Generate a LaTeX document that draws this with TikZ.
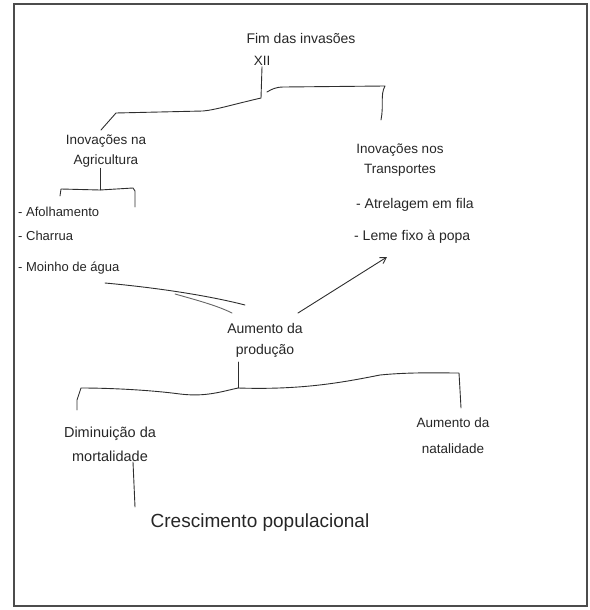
\documentclass[tikz,border=0pt]{standalone}
\usepackage{fontspec}
\setmainfont{Liberation Sans}
\usetikzlibrary{arrows.meta}
\begin{document}
\begin{tikzpicture}[x=1pt,y=-1pt,
  pen/.style={draw=black!82,line width=0.9pt,line cap=round,line join=round},
  hand/.style={font=\fontsize{13.5}{20}\selectfont,text=black!85,align=center,inner sep=1pt},
  item/.style={font=\fontsize{13}{15}\selectfont,text=black!85,anchor=west,inner sep=1pt}]
\useasboundingbox (0,0) rectangle (589,610);
\draw[draw=black!70,line width=1.1pt] (14,4) rectangle (587,606);

% nodes
\node[hand,font=\fontsize{14}{16}\selectfont] (fim) at (301,38) {Fim das invasões};
\node[hand] (sec) at (262,61) {XII};
\node[hand] (agr) at (106,151) {Inovações na\\Agricultura};
\node[hand] (tra) at (400,160) {Inovações nos\\Transportes};
\node[item] (afo) at (17,212) {- Afolhamento};
\node[item] (cha) at (17,236) {- Charrua};
\node[item] (moi) at (17,268) {- Moinho de água};
\node[item,font=\fontsize{14}{16}\selectfont] (atr) at (355,205) {- Atrelagem em fila};
\node[item,font=\fontsize{14}{16}\selectfont] (lem) at (353,237) {- Leme fixo à popa};
\node[hand,font=\fontsize{14}{21}\selectfont] (aum) at (265,340) {Aumento da\\produção};
\node[hand,font=\fontsize{14.5}{24}\selectfont] (dim) at (110,444) {Diminuição da\\mortalidade};
\node[hand,font=\fontsize{13.5}{26}\selectfont] (nat) at (453,436) {Aumento da\\natalidade};
\node[hand,font=\fontsize{19}{21}\selectfont] (cre) at (260,523) {Crescimento populacional};

% top bracket
\coordinate (j1) at (261,98);
\draw[pen] (sec.south) -- (j1);
\draw[pen] (j1) .. controls (235,104) and (215,110) .. (203,111) -- (116,113) -- (101,130);
\draw[pen] (267,92) .. controls (272,89) and (276,87) .. (284,87) -- (385,86)
  .. controls (380,95) and (384,105) .. (381,120);

% agriculture bracket
\coordinate (j2) at (100,190);
\draw[pen] (agr.south -| j2) -- (j2);
\draw[pen] (60,196) -- (61,189) -- (100,190) -- (133,188) -- (135,191) -- (135,207);

% lines to Aumento
\coordinate (m0) at (105,283);
\draw[pen] (m0) .. controls (160,288) and (210,296) .. (245,305);
\draw[pen,black!60] (175,294) .. controls (200,301) and (218,306) .. (232,313);
\coordinate (a0) at (298,313);
\draw[pen,-{Straight Barb[length=6pt,width=7pt]}] (a0) -- (387,257);

% bottom bracket
\coordinate (j3) at (238,388);
\draw[pen] (238,362) -- (j3);
\draw[pen] (j3) .. controls (220,392) and (205,397) .. (180,394)
  .. controls (150,390) and (110,388) .. (81,388) -- (77,400) -- (77,410);
\draw[pen] (j3) .. controls (300,390) and (340,383) .. (380,375)
  .. controls (410,372) and (440,373) .. (459,373) -- (460,390) -- (461,408);

% to crescimento
\draw[pen] (133,462) -- (135,507);
\end{tikzpicture}
\end{document}
